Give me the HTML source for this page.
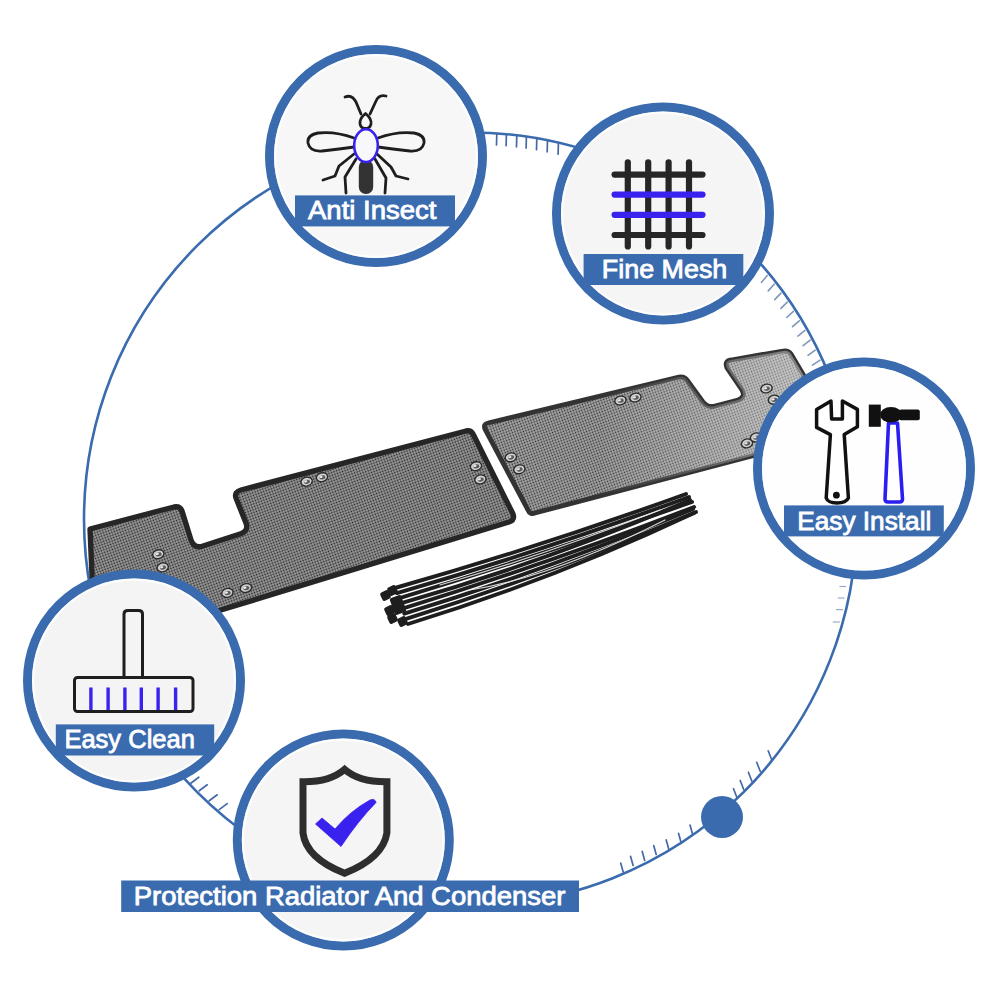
<!DOCTYPE html>
<html><head><meta charset="utf-8">
<style>
html,body{margin:0;padding:0;background:#fff;width:1000px;height:1000px;overflow:hidden}
svg{position:absolute;left:0;top:0;display:block}
text{font-family:"Liberation Sans",sans-serif;font-weight:normal;fill:#fff;stroke:#fff;stroke-width:0.8px}
</style></head><body>
<svg width="1000" height="1000" viewBox="0 0 1000 1000">
<defs>
<pattern id="mesh" width="2.7" height="2.7" patternUnits="userSpaceOnUse" patternTransform="rotate(-20)">
<rect width="2.7" height="2.7" fill="#9c9c9c"/>
<circle cx="1.35" cy="1.35" r="0.85" fill="#202020"/>
</pattern>
<pattern id="mesh2" width="2.7" height="2.7" patternUnits="userSpaceOnUse" patternTransform="rotate(-20)">
<rect width="2.7" height="2.7" fill="#a8a8a8"/>
<circle cx="1.35" cy="1.35" r="0.8" fill="#2a2a2a"/>
</pattern>
<linearGradient id="hl" x1="600" y1="0" x2="800" y2="0" gradientUnits="userSpaceOnUse">
<stop offset="0" stop-color="#fff" stop-opacity="0"/>
<stop offset="1" stop-color="#fff" stop-opacity="0.4"/>
</linearGradient>
</defs>

<!-- big circle -->
<circle cx="470.4" cy="518.9" r="386.4" fill="none" stroke="#3a6bae" stroke-width="2.6"/>

<!-- ticks -->
<g id="ticks" stroke="#4468a8" stroke-width="1.7" stroke-linecap="round">
<line x1="496.8" y1="133.4" x2="496.5" y2="144.9"/>
<line x1="506.4" y1="134.2" x2="506.1" y2="145.7"/>
<line x1="516.8" y1="135.3" x2="516.5" y2="146.8"/>
<line x1="526.4" y1="136.6" x2="526.1" y2="148.1"/>
<line x1="536.8" y1="138.2" x2="536.5" y2="149.7"/>
<line x1="547.5" y1="140.3" x2="547.2" y2="151.8"/>
<line x1="558.4" y1="142.7" x2="558.1" y2="154.2"/>
<line x1="737.0" y1="797.7" x2="733.5" y2="788.7"/>
<line x1="743.7" y1="789.5" x2="740.2" y2="780.5"/>
<line x1="751.9" y1="781.2" x2="748.4" y2="772.2"/>
<line x1="760.2" y1="771.3" x2="756.7" y2="762.3"/>
<line x1="771.7" y1="759.8" x2="768.2" y2="750.8"/>
<line x1="623.2" y1="872.0" x2="620.7" y2="863.0"/>
<line x1="633.1" y1="865.4" x2="630.6" y2="856.4"/>
<line x1="644.7" y1="860.4" x2="642.2" y2="851.4"/>
<line x1="656.2" y1="854.5" x2="653.7" y2="845.5"/>
<line x1="668.7" y1="848.9" x2="666.2" y2="839.9"/>
<line x1="681.0" y1="842.3" x2="678.5" y2="833.3"/>
<line x1="692.5" y1="834.0" x2="690.0" y2="825.0"/>
<line x1="190.8" y1="783.2" x2="198.8" y2="777.2"/>
<line x1="199.2" y1="790.8" x2="207.2" y2="784.8"/>
<line x1="209.2" y1="800.8" x2="217.2" y2="794.8"/>
<line x1="219.2" y1="809.6" x2="227.2" y2="803.6"/>
</g>
<g stroke="#8096b8" stroke-width="1.6" stroke-linecap="round">
<line x1="767.3" y1="275.5" x2="761.5" y2="282.3"/>
<line x1="774.2" y1="284.2" x2="768.2" y2="290.9"/>
<line x1="780.9" y1="293.1" x2="774.7" y2="299.6"/>
<line x1="787.3" y1="302.1" x2="780.9" y2="308.4"/>
<line x1="793.4" y1="311.4" x2="786.8" y2="317.5"/>
<line x1="799.3" y1="320.8" x2="792.5" y2="326.7"/>
<line x1="804.9" y1="330.4" x2="797.9" y2="336.1"/>
<line x1="810.2" y1="340.2" x2="803.1" y2="345.7"/>
<line x1="815.2" y1="350.1" x2="808.0" y2="355.4"/>
<line x1="820.0" y1="360.1" x2="812.5" y2="365.2"/>
</g>
<g stroke="#7088b8" stroke-width="1.2" opacity="0.7"><line x1="839.4" y1="586.5" x2="846" y2="586.5"/><line x1="837.7" y1="598" x2="844.5" y2="598"/><line x1="836" y1="609.6" x2="843" y2="609.6"/><line x1="832.8" y1="622" x2="840" y2="622"/></g>

<!-- mesh pieces -->
<g id="product">
<path id="leftpiece" d="M90,529 L174,507 Q180,506 182,511 L191,540 Q194,549 203,546 L240,534 Q249,531 246,523 L236,498 Q234,492 241,490 L466,431 Q471,430 473,434 L513,514 Q515,520 509,522 L221,610 L95,645 Z" fill="url(#mesh)" stroke="#262626" stroke-width="5.4" stroke-linejoin="round"/>
<path id="rightpiece" d="M488,423 L679,377 Q684,376 687,380 L703,402 Q708,408 715,406 L738,400 Q746,397 742,390 L727,368 Q724,361 731,360 L783,351 Q788,350 791,354 L830,420 L752,456 L535,513 Q530,515 528,510 L485,429 Q483,424 488,423 Z" fill="url(#mesh2)" stroke="#333" stroke-width="4.8" stroke-linejoin="round"/>
<path d="M488,423 L679,377 Q684,376 687,380 L703,402 Q708,408 715,406 L738,400 Q746,397 742,390 L727,368 Q724,361 731,360 L783,351 Q788,350 791,354 L830,420 L752,456 L535,513 Q530,515 528,510 L485,429 Q483,424 488,423 Z" fill="url(#hl)" stroke="none"/>
<g transform="translate(306.6,481.6) rotate(-15)"><ellipse rx="6.4" ry="5" fill="#2a2a2a"/><ellipse rx="5" ry="3.7" fill="#cfcfcf"/><ellipse cx="0.3" cy="0.3" rx="3" ry="2" fill="#5a5a5a"/><ellipse cx="-0.8" cy="-0.4" rx="1.6" ry="1" fill="#eee"/></g><g transform="translate(322,477.2) rotate(-15)"><ellipse rx="6.4" ry="5" fill="#2a2a2a"/><ellipse rx="5" ry="3.7" fill="#cfcfcf"/><ellipse cx="0.3" cy="0.3" rx="3" ry="2" fill="#5a5a5a"/><ellipse cx="-0.8" cy="-0.4" rx="1.6" ry="1" fill="#eee"/></g><g transform="translate(476,466.2) rotate(-15)"><ellipse rx="6.4" ry="5" fill="#2a2a2a"/><ellipse rx="5" ry="3.7" fill="#cfcfcf"/><ellipse cx="0.3" cy="0.3" rx="3" ry="2" fill="#5a5a5a"/><ellipse cx="-0.8" cy="-0.4" rx="1.6" ry="1" fill="#eee"/></g><g transform="translate(480.4,479.4) rotate(-15)"><ellipse rx="6.4" ry="5" fill="#2a2a2a"/><ellipse rx="5" ry="3.7" fill="#cfcfcf"/><ellipse cx="0.3" cy="0.3" rx="3" ry="2" fill="#5a5a5a"/><ellipse cx="-0.8" cy="-0.4" rx="1.6" ry="1" fill="#eee"/></g><g transform="translate(158.3,554.2) rotate(-15)"><ellipse rx="6.4" ry="5" fill="#2a2a2a"/><ellipse rx="5" ry="3.7" fill="#cfcfcf"/><ellipse cx="0.3" cy="0.3" rx="3" ry="2" fill="#5a5a5a"/><ellipse cx="-0.8" cy="-0.4" rx="1.6" ry="1" fill="#eee"/></g><g transform="translate(162.7,567.4) rotate(-15)"><ellipse rx="6.4" ry="5" fill="#2a2a2a"/><ellipse rx="5" ry="3.7" fill="#cfcfcf"/><ellipse cx="0.3" cy="0.3" rx="3" ry="2" fill="#5a5a5a"/><ellipse cx="-0.8" cy="-0.4" rx="1.6" ry="1" fill="#eee"/></g><g transform="translate(227.4,592.9) rotate(-15)"><ellipse rx="6.4" ry="5" fill="#2a2a2a"/><ellipse rx="5" ry="3.7" fill="#cfcfcf"/><ellipse cx="0.3" cy="0.3" rx="3" ry="2" fill="#5a5a5a"/><ellipse cx="-0.8" cy="-0.4" rx="1.6" ry="1" fill="#eee"/></g><g transform="translate(245.9,588) rotate(-15)"><ellipse rx="6.4" ry="5" fill="#2a2a2a"/><ellipse rx="5" ry="3.7" fill="#cfcfcf"/><ellipse cx="0.3" cy="0.3" rx="3" ry="2" fill="#5a5a5a"/><ellipse cx="-0.8" cy="-0.4" rx="1.6" ry="1" fill="#eee"/></g><g transform="translate(510.8,457.3) rotate(-15)"><ellipse rx="6.4" ry="5" fill="#2a2a2a"/><ellipse rx="5" ry="3.7" fill="#cfcfcf"/><ellipse cx="0.3" cy="0.3" rx="3" ry="2" fill="#5a5a5a"/><ellipse cx="-0.8" cy="-0.4" rx="1.6" ry="1" fill="#eee"/></g><g transform="translate(519.3,469.3) rotate(-15)"><ellipse rx="6.4" ry="5" fill="#2a2a2a"/><ellipse rx="5" ry="3.7" fill="#cfcfcf"/><ellipse cx="0.3" cy="0.3" rx="3" ry="2" fill="#5a5a5a"/><ellipse cx="-0.8" cy="-0.4" rx="1.6" ry="1" fill="#eee"/></g><g transform="translate(620.4,400.5) rotate(-15)"><ellipse rx="6.4" ry="5" fill="#2a2a2a"/><ellipse rx="5" ry="3.7" fill="#cfcfcf"/><ellipse cx="0.3" cy="0.3" rx="3" ry="2" fill="#5a5a5a"/><ellipse cx="-0.8" cy="-0.4" rx="1.6" ry="1" fill="#eee"/></g><g transform="translate(635.4,397.5) rotate(-15)"><ellipse rx="6.4" ry="5" fill="#2a2a2a"/><ellipse rx="5" ry="3.7" fill="#cfcfcf"/><ellipse cx="0.3" cy="0.3" rx="3" ry="2" fill="#5a5a5a"/><ellipse cx="-0.8" cy="-0.4" rx="1.6" ry="1" fill="#eee"/></g><g transform="translate(766.5,388.5) rotate(-15)"><ellipse rx="6.4" ry="5" fill="#2a2a2a"/><ellipse rx="5" ry="3.7" fill="#cfcfcf"/><ellipse cx="0.3" cy="0.3" rx="3" ry="2" fill="#5a5a5a"/><ellipse cx="-0.8" cy="-0.4" rx="1.6" ry="1" fill="#eee"/></g><g transform="translate(774,399.6) rotate(-15)"><ellipse rx="6.4" ry="5" fill="#2a2a2a"/><ellipse rx="5" ry="3.7" fill="#cfcfcf"/><ellipse cx="0.3" cy="0.3" rx="3" ry="2" fill="#5a5a5a"/><ellipse cx="-0.8" cy="-0.4" rx="1.6" ry="1" fill="#eee"/></g><g transform="translate(747,443.4) rotate(-15)"><ellipse rx="6.4" ry="5" fill="#2a2a2a"/><ellipse rx="5" ry="3.7" fill="#cfcfcf"/><ellipse cx="0.3" cy="0.3" rx="3" ry="2" fill="#5a5a5a"/><ellipse cx="-0.8" cy="-0.4" rx="1.6" ry="1" fill="#eee"/></g><g transform="translate(756,437.4) rotate(-15)"><ellipse rx="6.4" ry="5" fill="#2a2a2a"/><ellipse rx="5" ry="3.7" fill="#cfcfcf"/><ellipse cx="0.3" cy="0.3" rx="3" ry="2" fill="#5a5a5a"/><ellipse cx="-0.8" cy="-0.4" rx="1.6" ry="1" fill="#eee"/></g>
</g>

<!-- cable ties -->
<g id="ties" stroke="#1e1e1e" fill="none" stroke-linecap="round">
<g stroke-width="3.9">
<path d="M395.0,588.0 Q539.5,547.0 686.0,494.0"/>
<path d="M396.9,593.1 Q540.5,551.5 689.0,497.0"/>
<path d="M398.7,598.3 Q541.5,555.0 692.0,502.0"/>
<path d="M400.6,603.4 Q545.0,562.0 690.0,500.0"/>
<path d="M402.4,608.6 Q545.5,564.5 694.0,507.0"/>
<path d="M404.3,613.7 Q548.5,569.5 693.0,509.0"/>
<path d="M406.1,618.9 Q549.5,574.0 696.0,512.0"/>
<path d="M408.0,624.0 Q553.0,579.5 694.0,513.0"/>
</g>
<g stroke="#e8e8e8" stroke-width="1.2" opacity="0.9"><path d="M440.0,585.0 Q540.0,556.5 660.0,510.0"/><path d="M470.0,590.0 Q552.5,577.0 665.0,520.0"/></g>
<g fill="#1e1e1e" stroke="none">
<rect x="381" y="591" width="9" height="9" rx="2" transform="rotate(-25 385.5 595.5)"/>
<rect x="388" y="586" width="9" height="9" rx="2" transform="rotate(-25 392.5 590.5)"/>
<rect x="385" y="606" width="9" height="9" rx="2" transform="rotate(-25 389.5 610.5)"/>
<rect x="388" y="614" width="9" height="9" rx="2" transform="rotate(-25 392.5 618.5)"/>
<rect x="398" y="617" width="9" height="9" rx="2" transform="rotate(-25 402.5 621.5)"/>
<rect x="392" y="596" width="12" height="18" rx="2" transform="rotate(-20 398 605)"/>
</g>
</g>

<!-- dot -->
<circle cx="722" cy="817" r="21" fill="#3a6bae"/>

<!-- small circles -->
<circle cx="376" cy="156" r="106.5" fill="#f7f7f7" stroke="#3a6bae" stroke-width="9"/>
<circle cx="376" cy="156" r="100.9" fill="none" stroke="#fff" stroke-width="2.2" opacity="0.8"/>
<circle cx="663" cy="213.5" r="106.5" fill="#f5f5f6" stroke="#3a6bae" stroke-width="9"/>
<circle cx="663" cy="213.5" r="100.9" fill="none" stroke="#fff" stroke-width="2.2" opacity="0.8"/>
<circle cx="864" cy="468.6" r="106.5" fill="#fefefe" stroke="#3a6bae" stroke-width="9"/>
<circle cx="864" cy="468.6" r="100.9" fill="none" stroke="#fff" stroke-width="2.2" opacity="0.8"/>
<circle cx="134" cy="680.5" r="106.5" fill="#f4f4f5" stroke="#3a6bae" stroke-width="9"/>
<circle cx="134" cy="680.5" r="100.9" fill="none" stroke="#fff" stroke-width="2.2" opacity="0.8"/>
<circle cx="343.3" cy="840" r="106" fill="#f5f5f5" stroke="#3a6bae" stroke-width="9"/>
<circle cx="343.3" cy="840" r="100.4" fill="none" stroke="#fff" stroke-width="2.2" opacity="0.8"/>

<!-- icons -->
<!-- insect -->
<g id="insect" fill="none" stroke="#1e1e1e" stroke-width="2.8" stroke-linecap="round" stroke-linejoin="round">
<path d="M345,97 Q352,94 356,102 L361,114"/>
<path d="M386,96 Q379,94 376,101 L370,114"/>
<path d="M365.5,113.5 Q372,119 371,124 Q370,128.5 365.5,128.5 Q361,128.5 360,124 Q359,119 365.5,113.5 Z"/>
<path d="M354,138 Q335,131 318,133 Q307,135 308,143 Q310,152 322,151 Q340,149 354,147"/>
<path d="M378,138 Q397,131 414,133 Q425,135 424,143 Q422,152 410,151 Q392,149 378,147"/>
<path d="M354,154 L339,166 L335,176 L323,180"/>
<path d="M356,159 L345,177 L346,193"/>
<path d="M377,154 L391,167 L396,176 L408,179"/>
<path d="M375,159 L386,178 L385,193"/>
<rect x="358.8" y="160" width="14.4" height="34" rx="7" fill="#333" stroke="none"/>
<ellipse cx="366" cy="145.6" rx="11.8" ry="16.4" fill="#f8f8fa" stroke="#3a22ee" stroke-width="2.6"/>
</g>
<!-- mesh icon -->
<g id="meshicon" stroke-width="6.2" stroke-linecap="round">
<g stroke="#262626">
<line x1="627.8" y1="162.3" x2="627.8" y2="246.5"/>
<line x1="648.2" y1="162.3" x2="648.2" y2="246.5"/>
<line x1="668.6" y1="162.3" x2="668.6" y2="246.5"/>
<line x1="689" y1="162.3" x2="689" y2="246.5"/>
<line x1="614.6" y1="174.6" x2="702.5" y2="174.6"/>
<line x1="614.6" y1="235" x2="702.5" y2="235"/>
</g>
<g stroke="#3a22ee">
<line x1="614.6" y1="194.6" x2="702.5" y2="194.6"/>
<line x1="614.6" y1="214.8" x2="702.5" y2="214.8"/>
</g>
</g>
<!-- wrench + hammer -->
<g id="tools">
<path d="M831,401 L816.6,409.4 L816.6,427.4 L830.4,434.6 L826.2,498 Q828,503 837,503 Q846,503 848.4,498 L844.2,434.6 L857.4,426.8 L857.4,409.4 L842.4,401 L842.4,419 L831.6,419 Z" fill="#fff" stroke="#111" stroke-width="3.5" stroke-linejoin="round"/>
<circle cx="836.4" cy="495.2" r="3.4" fill="#111"/>
<path d="M888.5,423 L897.5,423 L902.5,499 Q902.5,502 899.5,502 L888,502 Q885,502 885,499 Z" fill="#fff" stroke="#2a1ff0" stroke-width="3.6" stroke-linejoin="round"/>
<rect x="868.8" y="404.6" width="12" height="22.2" fill="#111"/>
<ellipse cx="891" cy="414.8" rx="11" ry="7.8" fill="#111"/>
<rect x="899" y="409.4" width="20.8" height="10.8" rx="2" fill="#111"/>
</g>
<!-- broom -->
<g id="broom" fill="none" stroke="#1e1e1e" stroke-width="3" stroke-linejoin="round">
<path d="M124,677 L124,614 Q124,610.5 128,610.5 L138.5,610.5 Q142.5,610.5 142.5,614 L142.5,677"/>
<rect x="74.5" y="677.5" width="118.5" height="34" rx="3"/>
<g stroke="#3a22ee" stroke-width="3.4">
<line x1="90.9" y1="687.5" x2="90.9" y2="710"/>
<line x1="108.1" y1="687.5" x2="108.1" y2="710"/>
<line x1="124.9" y1="687.5" x2="124.9" y2="710"/>
<line x1="141.3" y1="687.5" x2="141.3" y2="710"/>
<line x1="158.1" y1="687.5" x2="158.1" y2="710"/>
<line x1="175.6" y1="687.5" x2="175.6" y2="710"/>
</g>
</g>
<!-- shield -->
<g id="shield">
<path d="M344.6,769.3 Q330,782 303,781.7 L303,833 Q306,858 344.6,873.3 Q383,858 386.9,833 L386.9,781.7 Q359,782 344.6,769.3 Z" fill="none" stroke="#2e2e2e" stroke-width="7" stroke-linejoin="miter"/>
<path d="M315.5,824 L322,818 L335,829 Q350,811 370,800 Q375,798 376,802.5 Q358,821 341,846.5 Z" fill="#3a22ee" stroke="#3a22ee" stroke-width="0.8" stroke-linejoin="round"/>
</g>

<!-- label bars -->
<g fill="#3a6bae">
<rect x="295" y="195.4" width="160" height="31"/>
<rect x="583.6" y="254" width="159.7" height="31"/>
<rect x="784" y="505.4" width="159.8" height="31"/>
<rect x="55.8" y="724.4" width="158.4" height="31.1"/>
<rect x="121.2" y="880.5" width="457.8" height="31.5"/>
</g>
<g font-size="25.2">
<text x="308" y="219" textLength="128.5" lengthAdjust="spacingAndGlyphs">Anti Insect</text>
<text x="601.8" y="277.8" textLength="125.5" lengthAdjust="spacingAndGlyphs">Fine Mesh</text>
<text x="797.3" y="530" textLength="134" lengthAdjust="spacingAndGlyphs">Easy Install</text>
<text x="64.4" y="748.2" textLength="130.5" lengthAdjust="spacingAndGlyphs">Easy Clean</text>
<text x="133.8" y="905" textLength="431.5" lengthAdjust="spacingAndGlyphs">Protection Radiator And Condenser</text>
</g>

</svg>
</body></html>
